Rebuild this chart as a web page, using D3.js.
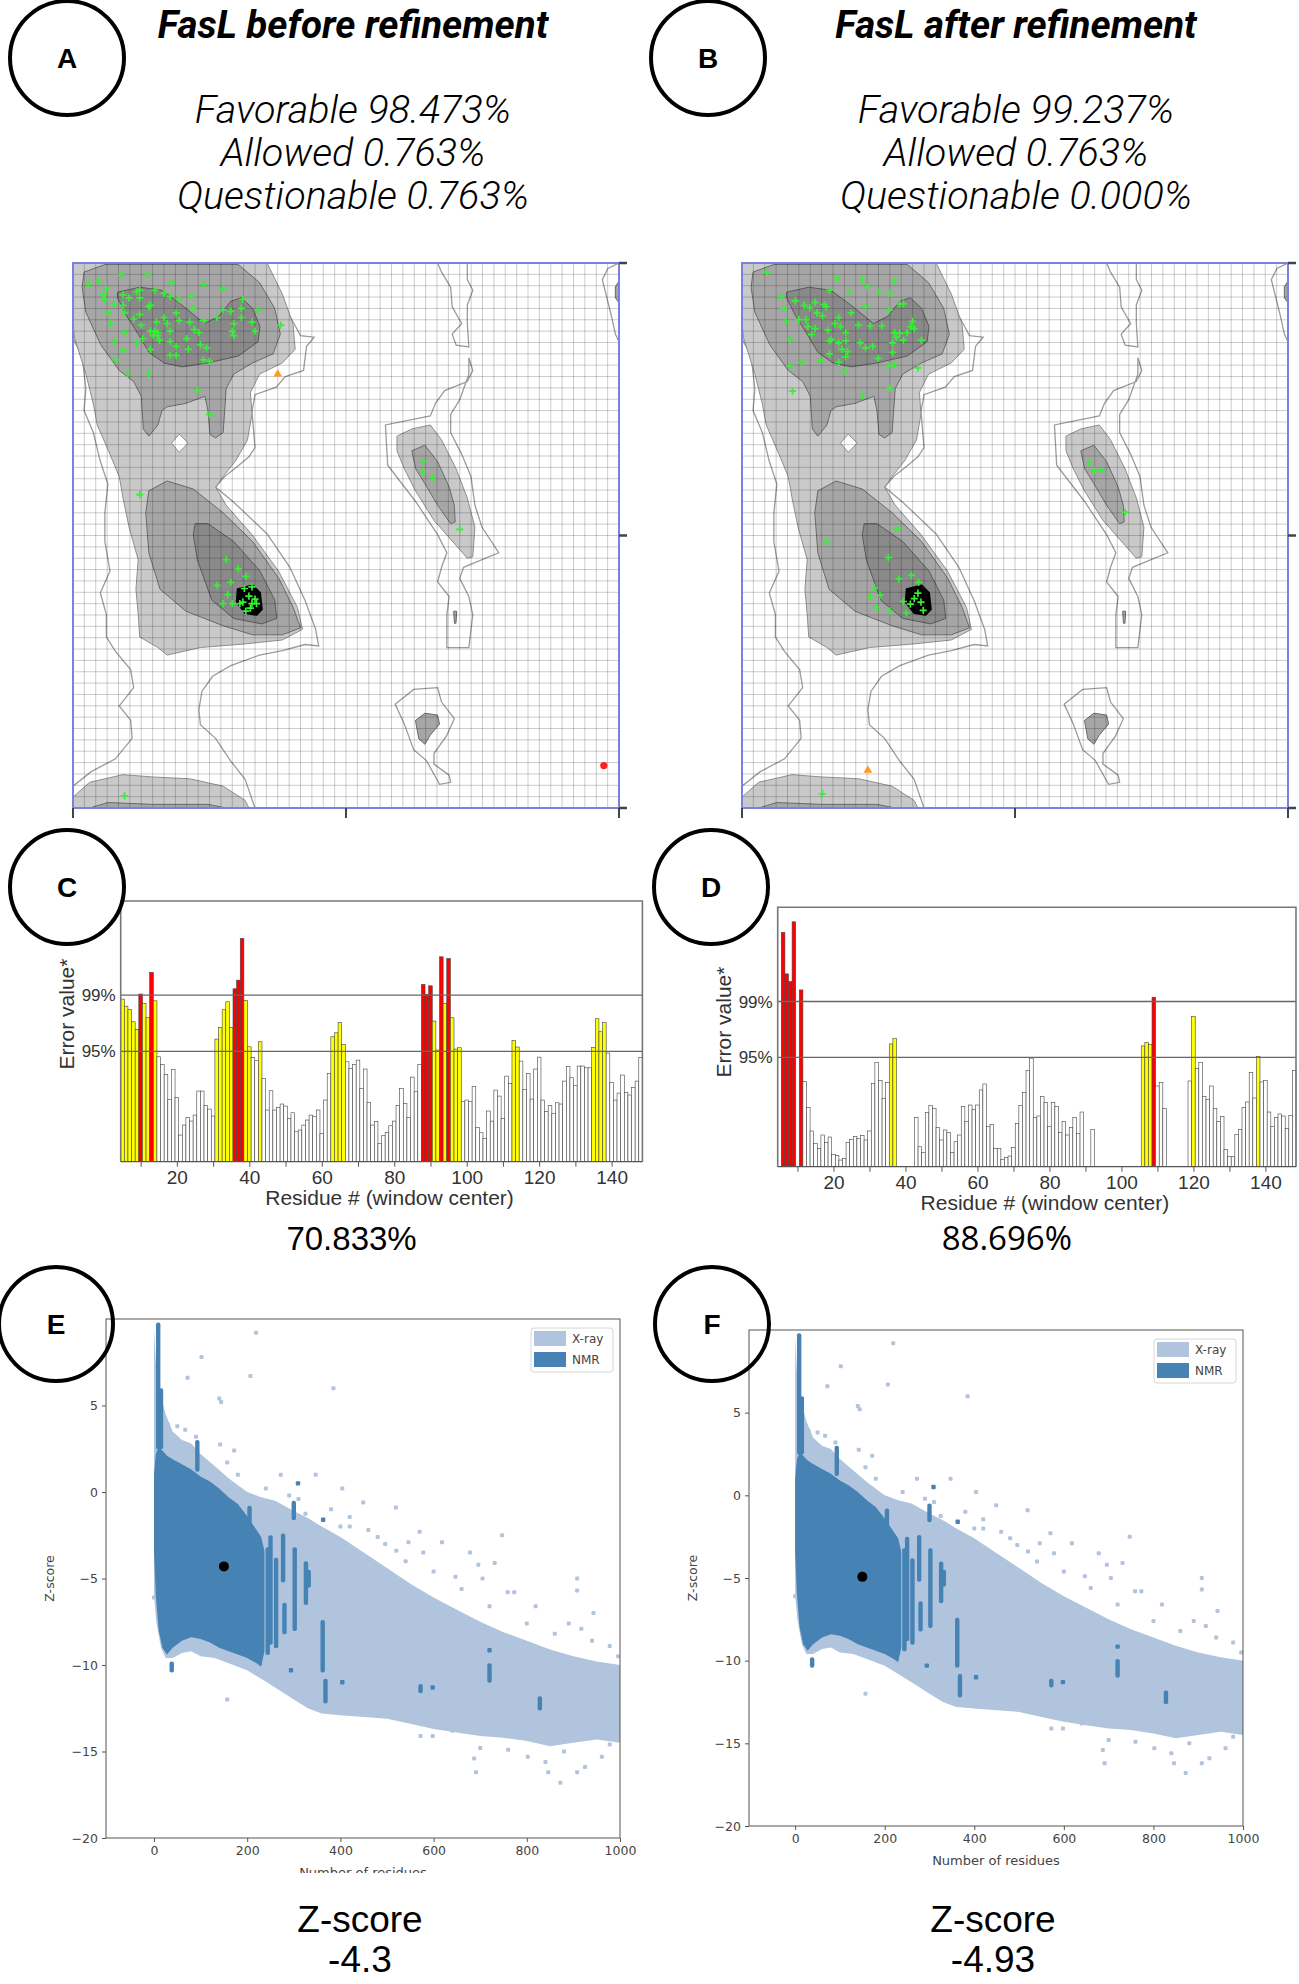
<!DOCTYPE html>
<html>
<head>
<meta charset="utf-8">
<script src="https://cdn.jsdelivr.net/npm/d3@7/dist/d3.min.js"></script>
<style>
  body { margin: 0; background: #fff; }
  svg { display: block; }
</style>
</head>
<body>
<svg id="fig" width="1299" height="1984"></svg>
<script>
// ---------------- text ----------------
const panelLetters = ['A', 'B', 'C', 'D', 'E', 'F'];
const ramaTitles = ['FasL before refinement', 'FasL after refinement'];
const ramaStatsBefore = ['Favorable 98.473%', 'Allowed 0.763%', 'Questionable 0.763%'];
const ramaStatsAfter = ['Favorable 99.237%', 'Allowed 0.763%', 'Questionable 0.000%'];
const erratScores = ['70.833%', '88.696%'];
const zScores = [-4.3, -4.93];

// ---------------- Ramachandran background regions [phi, psi] ----------------
const outlineRegions = [
  [[-180,180],[-55.5,180],[-47,162],[-37,145],[-30,132],[-21,131],[-26,125],[-28,109],[-40,105],[-46,98],[-60,93],[-62,82],[-60,58],[-64,52],[-71,46],[-80,39],[-86,32],[-74,22],[-52,1],[-37,-21],[-27,-43],[-20,-62],[-18,-73],[-27,-72],[-42,-76],[-57,-79],[-76,-86],[-88,-93],[-95,-103],[-97,-115],[-96,-125],[-86,-134],[-76,-149],[-66.5,-161],[-60,-180],[-180,-180],[-180,-165.6],[-168,-156],[-152,-147.5],[-141,-134],[-142,-122],[-149.5,-112.6],[-140,-100.5],[-142,-88.5],[-152,-76.5],[-158,-67],[-158,-52],[-162,-38],[-155.6,-23.5],[-159,-4],[-159,15],[-157,34],[-162,49],[-166.6,68],[-172.7,82.5],[-171.5,97],[-174,118.6],[-179,128],[-180,130.6]],
  [[81,117.4],[83.6,109],[80,101.7],[65,95.7],[59,87.3],[55.6,79],[26,73],[27.5,46.4],[46,22.3],[60.4,0.6],[66.5,-11.4],[63,-21],[60.4,-30.7],[68,-40.3],[66.5,-52.4],[66.5,-74],[81,-74],[83.6,-52.4],[81,-40.3],[75,-28.3],[77.5,-21],[100.7,-11.4],[89.7,5.4],[85,20],[82.4,39],[76.3,53.6],[69,68],[69,80],[75,89.7],[81,106.6]],
  [[60.4,180],[80,180],[80,169],[83.6,162],[80,152.3],[80,140],[81,124.6],[72.6,125.8],[70,133],[76.3,140],[70,151],[69,164],[63,174]],
  [[32.4,-111.4],[44.6,-101.7],[60.4,-100.5],[63,-110],[71.4,-121],[66.5,-132],[58,-144],[58,-151],[68,-158.3],[69,-163],[61.7,-164.4],[53,-148.7],[44.6,-141.5],[38.5,-124.6]],
  [[180,180],[172.7,176.4],[169,169],[175,145],[177.6,133],[180,128]]
];
const lightRegions = [
  [[-180,180],[-52,180],[-42,159.5],[-35,140],[-33.5,123],[-42,114],[-57,106.6],[-63,94.5],[-62,80],[-65,63],[-73,49],[-81,39],[-86,32],[-79,20],[-62,0.6],[-44.5,-23.5],[-32,-47.5],[-28.7,-62],[-42,-69],[-66.5,-71.6],[-96,-74],[-118,-79],[-124,-74],[-136,-67],[-137,-52],[-138.5,-35.5],[-137,-16],[-143,5.4],[-147,24.7],[-149.5,39],[-155.6,53.6],[-164,73],[-166.6,87],[-171.5,106.6],[-179,130.6],[-180,140]],
  [[33.6,65.6],[43.4,70.4],[55.6,73],[63,63.2],[72.6,44],[80,24.7],[85,5.4],[83.6,-14],[80,-15],[72.6,-6.6],[58,10],[45.8,29.5],[38.5,44],[33.6,56]],
  [[-180,-172.8],[-169,-163],[-147,-158],[-127.5,-159.5],[-103,-160.7],[-81,-165.6],[-66.5,-175],[-64,-180],[-180,-180]]
];
const mediumRegions = [
  [[-172.7,174],[-159,179],[-71,179],[-57,167],[-47,150],[-43.3,133],[-48,120],[-61.6,114],[-74,106.6],[-79,97],[-80,82.5],[-81,68],[-86,64.4],[-89.7,66.8],[-91,82.5],[-93,92],[-105.5,87.3],[-118,85],[-121.4,82.5],[-124,73],[-130,65.6],[-133.6,70.4],[-135,92],[-140,101.7],[-149.5,109],[-161.7,126],[-171.5,147.5],[-174,164]],
  [[-130,29.5],[-118,36],[-100.7,30.7],[-81,15],[-61.6,-4],[-44.5,-28],[-34.8,-47.6],[-30,-61],[-42,-65.6],[-61.6,-65.6],[-81,-59.6],[-105.5,-50],[-122.6,-35.5],[-130,-11.4],[-132,15]],
  [[43.4,56],[52,59.6],[60.4,48.8],[68,32],[71.4,20],[72,9],[69,7.8],[60.4,20],[52,34.3],[46,44]],
  [[45.8,-122.2],[52,-117.4],[60.4,-118.6],[61.7,-124.6],[55.6,-131.8],[52,-137.9],[48,-134.3]],
  [[-169,-180],[-157,-176.4],[-127.5,-177.6],[-91,-177.6],[-79,-180]],
  [[180,168],[177.6,164.4],[177.6,157],[180,153.6]],
  [[71,-50],[73,-50],[72.5,-58],[71.5,-58]]
];
const darkRegions = [
  [[-150.7,160.7],[-136,164],[-121.4,162],[-108,152],[-93.3,140],[-83.6,145],[-76,154.7],[-69,157],[-61.6,150],[-56.7,138],[-58,128],[-71,118.6],[-91,114],[-108,111.4],[-120,114],[-130,121],[-137,133],[-144.6,145],[-150.7,157]],
  [[-99.4,7.8],[-91,7.8],[-74,-4],[-56.7,-23.5],[-47,-42.7],[-45.7,-54.8],[-55.5,-58.4],[-74,-54.8],[-88.5,-42.7],[-98,-16],[-100.7,0.6]]
];
const coreRegions = [
  [[-71.4,-35.5],[-61.6,-33],[-56.7,-38],[-55.5,-48.8],[-59,-52.4],[-66.5,-51.2],[-72,-44]]
];
const holeRegions = [
  [[-110,67],[-104,61],[-110,55],[-115,61]]
];

// ---------------- Ramachandran residues [phi, psi] ----------------
const favoredBefore = [
  [-170,166],[-163,168],[-148,172],[-131,172],[-115,167],[-94,166],[-81,163],
  [-160,159],[-158,163],[-159,156],[-153,153],[-147,159],[-143,157],[-138,161],[-136,162],[-136,157],
  [-129,152],[-130,151],[-126,162],[-120,160],[-116,158],[-110,156],[-102,158],[-101,150],[-112,147],
  [-118,140],[-125,141],[-129,135],[-126,135],[-124,134],[-127,132],[-123,129],[-116,135],
  [-147,152],[-146,147],[-140,143],[-136,146],[-135,139],[-134,130],[-146,134],[-153,128],[-147,122],
  [-138,127],[-129,123],[-116,119],[-112,119],[-112,125],[-105,130],[-103,141],[-97,134],[-100,136],
  [-96,126],[-92,124],[-104,123],[-94,116],[-90,115],[-94,142],[-85,144],[-81,149],[-76,148],[-74,140],
  [-69,144],[-68,156],[-69,150],[-58,149],[-62,141],[-60,135],[-74,132],[-75,135],[-157,147],[-155,140],
  [-152,116],[-144,107],[-130,107],[-98,96],[-90,80],[-120,144],[-110,142],[-116,128],[-124,132],[-43,139],
  [-136,27],
  [-79,-16],[-71,-22],[-76,-31],[-66,-27],[-62,-34],[-85,-33],[-78,-39],[-81,-45],[-75,-45],[-70,-45],
  [-66,-50],[-62,-45],[-59,-45],[-67,-35],[-64,-40],[-60,-42],[-68,-44],[-63,-48],
  [75,4],[51,49],[50.6,42],[57,38],
  [-146,-172]
];
const allowedBefore = [[-45,106.6]];
const outlierBefore = [[170,-152]];

const favoredAfter = [
  [-163.4,174],[-117.5,170],[-100.4,169],[-79.5,168],[-97.3,164],[-109.2,161],[-89.5,161],[-82.6,160],[-122.3,162],
  [-154.3,158],[-144.8,155],[-152.4,150],[-138.9,152],[-135.3,150.5],[-131.8,154],[-125.8,152.6],[-124.6,151],[-130.6,147],[-127,145],
  [-98.5,151],[-83,149],[-76,153],[-73.6,153],[-108,147],[-116.3,144],[-150.8,141.5],[-142.5,142.6],[-137.7,142.6],[-136.5,138],
  [-131.8,136.7],[-123.4,135.6],[-118.7,140],[-115.1,138],[-111.6,134],[-103.3,139],[-95.4,138.4],[-87.8,138.4],[-79.5,134],[-76,133.7],
  [-71.2,134],[-67.6,141.5],[-66.4,136.7],[-68.8,138],[-61.7,129],[-148.4,129.6],[-134.1,132.7],[-122.3,128.5],[-121.1,129.6],[-116.3,127.3],
  [-114,123],[-111.6,128.5],[-110.4,121.4],[-102,127.3],[-98.5,124],[-93.8,125],[-80.7,127.3],[-78.3,131],[-73.6,129],[-80.7,121],
  [-90.2,117],[-122.3,120],[-128.2,115.5],[-116.3,114.3],[-111.6,118],[-140.6,114.3],[-148.4,112],[-112.8,108.4],[-83,112],[-79.5,113],
  [-64,110.7],[-146.7,95.4],[-100.4,92.3],[-82.6,97.3],
  [-124,-4],[-77.6,4.4],[-83.5,-14.6],[-76.6,-28.7],[-68.3,-26.4],[-63.6,-31],[-92.6,-34.6],[-89,-39.4],[-95.4,-40.6],[-91.4,-47.6],
  [-82.6,-50],[-71.7,-51.2],[-73.6,-43.6],[-69,-45.3],[-66.4,-41.7],[-60.5,-49.5],[-64,-38],[-62,-44],
  [48.8,47.6],[52.4,42.7],[57,43.4],[72.6,15.5],
  [-127,-170.6]
];
const allowedAfter = [[-97,-155]];
const outlierAfter = [];

// ---------------- ERRAT error values, residues 5..148 (null = no window) ----------------
const erratFirstResidue = 5;
const errat95 = 11.38, errat99 = 17.19;
const erratBefore = [
  16.78,16.05,15.71,14.44,13.65,17.30,16.33,14.88,19.53,16.60,
  10.83,10.04,9.01,6.43,9.52,6.63,2.75,3.78,4.57,4.19,
  4.81,7.29,7.29,5.78,5.43,4.71,12.65,13.85,15.68,16.50,
  13.85,17.84,18.73,23.03,16.64,11.86,10.76,10.42,12.38,8.59,
  5.33,7.32,5.33,5.60,5.95,5.74,4.47,5.05,3.09,3.27,
  3.78,4.30,4.81,4.64,5.33,2.89,6.36,9.11,12.89,13.30,
  14.37,12.10,10.31,9.63,10.04,10.48,7.56,9.56,6.12,3.78,
  4.13,1.89,2.68,3.03,3.71,4.19,5.78,7.56,6.02,4.57,
  8.73,7.22,10.04,18.29,17.26,18.15,14.51,11.52,21.14,16.33,
  20.97,14.85,11.62,11.76,6.19,6.36,6.19,7.77,3.54,2.99,
  2.41,5.23,4.19,7.39,6.77,4.47,8.83,8.08,12.51,11.83,
  10.38,7.46,9.11,6.46,9.56,10.79,6.36,5.16,5.78,4.98,
  6.08,5.95,8.32,9.83,8.66,7.84,9.87,9.87,9.69,9.69,
  11.79,14.75,13.41,14.37,11.21,8.18,6.36,7.08,8.94,7.12,
  6.88,7.67,8.32,10.76
];
const erratAfter = [
  null,24.38,20.07,19.27,25.49,null,18.40,8.85,6.18,3.72,
  2.43,1.91,3.30,2.50,3.09,1.28,1.15,0.69,0.87,2.50,
  2.85,3.13,2.92,3.23,2.78,3.72,8.65,10.83,8.99,7.12,
  8.75,12.78,13.37,null,null,null,null,null,5.14,2.08,
  1.46,5.63,6.35,6.08,4.10,2.78,3.82,3.58,1.49,2.60,
  3.30,6.25,4.69,6.42,5.97,6.42,7.99,8.61,4.17,4.41,
  1.91,1.91,0.76,0.97,1.11,2.01,4.51,6.35,7.71,10.00,
  11.30,5.14,5.28,7.29,6.67,4.17,6.67,6.25,3.58,4.69,
  3.30,4.06,5.14,3.47,5.69,null,null,3.89,null,null,
  null,null,null,null,null,null,null,null,null,null,
  null,12.57,12.92,12.74,17.64,8.40,8.75,6.04,null,null,
  null,null,null,null,8.92,15.63,10.24,10.83,7.29,7.01,
  8.40,6.08,4.69,5.21,1.81,1.04,1.04,3.37,3.89,6.18,
  6.74,9.79,7.15,11.45,8.82,8.99,5.69,4.17,5.14,5.49,
  5.28,3.96,5.35,10.00
];

// ---------------- ProSA reference set: [residues, z low, z high] ----------------
const xrayBand = [
  [0,-6.0,9.5],[5,-7.5,7.0],[15,-9.0,5.5],[25,-9.6,4.5],[40,-9.6,3.5],[60,-9.3,3.0],[80,-9.2,2.8],
  [100,-9.5,2.2],[130,-9.6,1.5],[160,-9.9,0.8],[200,-10.3,0.0],[230,-10.8,-0.3],[260,-11.3,-0.5],
  [300,-12.0,-1.1],[330,-12.5,-1.5],[360,-12.8,-2.0],[400,-12.9,-2.6],[450,-13.0,-3.5],[500,-13.1,-4.4],
  [550,-13.4,-5.3],[600,-13.7,-6.1],[650,-13.9,-6.8],[700,-14.1,-7.5],[750,-14.2,-8.1],[800,-14.4,-8.6],
  [850,-14.7,-9.1],[900,-14.5,-9.5],[950,-14.3,-9.8],[1000,-14.5,-10.0]
];
const xrayPoints = [
  [219,9.2],[102,7.8],[72,6.6],[207,6.7],[385,6.0],[144,5.2],[140,5.4],[67,3.6],[142,2.75],[172,2.4],
  [157,1.7],[117,1.55],[135,1.0],[272,1.0],[347,1.0],[404,0.2],[449,-0.6],[519,-0.9],[325,-1.25],[420,-1.45],
  [420,-2.0],[570,-2.3],[618,-2.9],[747,-2.5],[546,-2.9],[496,-3.0],[578,-3.5],[678,-3.5],[696,-4.2],[731,-4.1],
  [647,-4.9],[705,-5.0],[759,-5.8],[773,-5.8],[819,-6.6],[908,-5.0],[908,-5.7],[943,-7.0],[890,-7.6],[917,-7.9],
  [978,-8.9],[996,-9.5],[996,-10.6],[687,-15.4],[691,-16.2],[802,-15.3],[846,-16.2],[872,-16.8],[908,-16.2],[925,-15.9],
  [961,-15.3],[978,-14.6],[157,-12.0],[0,-6.1],[640,-13.8],[598,-14.1],[572,-14.1],[30,3.9],[50,3.8],[90,3.2],
  [180,1.0],[240,0.2],[290,-0.2],[310,-0.4],[380,-1.0],[400,-2.0],[460,-2.2],[480,-2.6],[520,-3.4],[540,-4.0],
  [600,-4.6],[660,-5.6],[720,-6.6],[800,-7.6],[860,-8.2],[940,-8.6],[880,-15.0],[840,-15.6],[760,-14.9],[700,-14.8]
];
const nmrBand = [
  [0,-3.5,1.0],[4,-6.0,2.2],[10,-8.0,2.6],[18,-9.0,2.4],[28,-9.4,2.1],[40,-9.0,1.9],[60,-8.6,1.6],
  [80,-8.4,1.3],[100,-8.5,0.9],[120,-8.7,0.6],[140,-9.0,0.2],[160,-9.2,-0.3],[180,-9.4,-0.7],
  [200,-9.6,-1.4],[220,-9.9,-2.2],[230,-10.1,-2.6],[237,-9.2,-3.4]
];
const nmrStreaks = [
  [9,9.8,2.5],[15,6.0,2.5],[38,-9.8,-10.4],[93,3.0,1.2],[165,-0.6,-1.8],[205,-0.8,-2.4],[244,-3.2,-9.4],[250,-2.5,-8.8],
  [262,-3.8,-9.0],[277,-2.4,-5.2],[280,-6.4,-8.2],[300,-0.5,-1.6],[302,-3.2,-8.0],[326,-4.0,-6.5],
  [332,-4.5,-5.5],[362,-7.4,-10.4],[368,-10.8,-12.2],[572,-11.1,-11.6],[720,-9.9,-11.0],[828,-11.8,-12.6]
];
const nmrPoints = [[309,0.5],[363,-1.6],[294,-10.3],[404,-11.0],[598,-11.3],[720,-9.15]];
const modelResidues = 150;

// ---------------- drawing ----------------
const svg = d3.select('#fig');
const defs = svg.append('defs');
let clipCount = 0;
function clipRect(x, y, w, h) {
  const id = 'clip' + (clipCount++);
  defs.append('clipPath').attr('id', id).append('rect')
    .attr('x', x).attr('y', y).attr('width', w).attr('height', h);
  return `url(#${id})`;
}

function drawRama(x0, y0, w, h, favored, allowed, outliers) {
  const x = d3.scaleLinear().domain([-180, 180]).range([x0, x0 + w]);
  const y = d3.scaleLinear().domain([-180, 180]).range([y0 + h, y0]);
  const poly = d3.line().x(d => x(d[0])).y(d => y(d[1])).curve(d3.curveLinearClosed);
  const g = svg.append('g');
  const body = g.append('g').attr('clip-path', clipRect(x0, y0, w, h));

  body.append('rect').attr('x', x0).attr('y', y0).attr('width', w).attr('height', h).attr('fill', '#fff');
  body.selectAll('path.outline').data(outlineRegions).join('path')
    .attr('d', poly).attr('fill', 'none').attr('stroke', '#9c9c9c').attr('stroke-width', 1.3);
  body.selectAll('path.light').data(lightRegions).join('path')
    .attr('d', poly).attr('fill', '#c9c9c9').attr('stroke', '#8f8f8f').attr('stroke-width', 1);
  body.selectAll('path.medium').data(mediumRegions).join('path')
    .attr('d', poly).attr('fill', '#a6a6a6').attr('stroke', '#6a6a6a').attr('stroke-width', 1);
  body.selectAll('path.dark').data(darkRegions).join('path')
    .attr('d', poly).attr('fill', '#8a8a8a').attr('stroke', '#5a5a5a').attr('stroke-width', 1);
  body.selectAll('path.core').data(coreRegions).join('path')
    .attr('d', poly).attr('fill', '#000').attr('stroke', '#000').attr('stroke-width', 2)
    .attr('stroke-linejoin', 'round');
  body.selectAll('path.hole').data(holeRegions).join('path')
    .attr('d', poly).attr('fill', '#fff').attr('stroke', '#8f8f8f').attr('stroke-width', 1);

  // grid
  const steps = d3.range(-180, 180.01, 7.5);
  body.selectAll('line.gx').data(steps).join('line')
    .attr('x1', d => x(d)).attr('x2', d => x(d)).attr('y1', y0).attr('y2', y0 + h)
    .attr('stroke', 'rgba(0,0,0,0.2)').attr('stroke-width', 1);
  body.selectAll('line.gy').data(steps).join('line')
    .attr('y1', d => y(d)).attr('y2', d => y(d)).attr('x1', x0).attr('x2', x0 + w)
    .attr('stroke', 'rgba(0,0,0,0.2)').attr('stroke-width', 1);

  // residues
  body.selectAll('path.fav').data(favored).join('path')
    .attr('d', d => `M${x(d[0]) - 3.6},${y(d[1])}h7.2M${x(d[0])},${y(d[1]) - 3.6}v7.2`)
    .attr('stroke', '#35f035').attr('stroke-width', 1.7);
  body.selectAll('path.allow').data(allowed).join('path')
    .attr('d', d3.symbol(d3.symbolTriangle, 32))
    .attr('transform', d => `translate(${x(d[0])},${y(d[1])})`)
    .attr('fill', '#ff9a1a');
  body.selectAll('circle.out').data(outliers).join('circle')
    .attr('cx', d => x(d[0])).attr('cy', d => y(d[1])).attr('r', 3.6).attr('fill', '#ff1f1f');

  // frame and ticks
  g.append('rect').attr('x', x0).attr('y', y0).attr('width', w).attr('height', h)
    .attr('fill', 'none').attr('stroke', '#7c80e0').attr('stroke-width', 2);
  g.selectAll('line.tb').data([-180, 0, 180]).join('line')
    .attr('x1', d => x(d)).attr('x2', d => x(d)).attr('y1', y0 + h).attr('y2', y0 + h + 10)
    .attr('stroke', '#444').attr('stroke-width', 2);
  g.selectAll('line.tr').data([-180, 0, 180]).join('line')
    .attr('y1', d => y(d)).attr('y2', d => y(d)).attr('x1', x0 + w).attr('x2', x0 + w + 8)
    .attr('stroke', '#444').attr('stroke-width', 2.5);
}

function drawErrat(x0, y0, x1, y1, values, yMax, scoreText, scoreFont, labelY) {
  const x = d3.scaleLinear().domain([4.5, 148.5]).range([x0, x1]);
  const y = d3.scaleLinear().domain([0, yMax]).range([y1, y0]);
  const g = svg.append('g');
  const bars = values.map((v, i) => ({ res: erratFirstResidue + i, v })).filter(d => d.v !== null);

  g.selectAll('rect.bar').data(bars).join('rect')
    .attr('x', d => x(d.res - 0.5)).attr('width', x(1) - x(0))
    .attr('y', d => y(d.v)).attr('height', d => y(0) - y(d.v))
    .attr('fill', d => d.v > errat99 ? '#ff0000' : d.v > errat95 ? '#ffff00' : '#fff')
    .attr('stroke', '#444').attr('stroke-width', 0.6);

  g.selectAll('line.thr').data([errat95, errat99]).join('line')
    .attr('x1', x0).attr('x2', x1).attr('y1', d => y(d)).attr('y2', d => y(d))
    .attr('stroke', '#666').attr('stroke-width', 1.4);
  g.append('path')
    .attr('d', `M${x0},${y1}V${y0}H${x1}V${y1}`)
    .attr('fill', 'none').attr('stroke', '#777').attr('stroke-width', 1.6);
  g.append('line').attr('x1', x0).attr('x2', x1).attr('y1', y1).attr('y2', y1)
    .attr('stroke', '#555').attr('stroke-width', 1.2);

  const axis = d3.axisBottom(x).tickValues(d3.range(10, 141, 10))
    .tickSize(5).tickPadding(4).tickFormat(d => d % 20 === 0 ? d : '');
  const ax = g.append('g').attr('transform', `translate(0,${y1})`).call(axis);
  ax.select('.domain').remove();
  ax.selectAll('line').attr('stroke', '#555');
  ax.selectAll('text').attr('font-family', 'Liberation Sans, Arial, sans-serif')
    .attr('font-size', 19).attr('fill', '#333');

  g.selectAll('text.pct').data([[errat99, '99%'], [errat95, '95%']]).join('text')
    .attr('x', x0 - 5).attr('y', d => y(d[0]) + 6).attr('text-anchor', 'end')
    .attr('font-family', 'Liberation Sans, Arial, sans-serif').attr('font-size', 17).attr('fill', '#333')
    .text(d => d[1]);
  g.append('text')
    .attr('transform', `translate(${x0 - 47},${labelY}) rotate(-90)`)
    .attr('text-anchor', 'middle').attr('font-family', 'Liberation Sans, Arial, sans-serif')
    .attr('font-size', 21).attr('fill', '#333').text('Error value*');
  g.append('text').attr('x', (x0 + x1) / 2 + 8).attr('y', y1 + 43).attr('text-anchor', 'middle')
    .attr('font-family', 'Liberation Sans, Arial, sans-serif').attr('font-size', 21).attr('fill', '#333')
    .text('Residue # (window center)');
  g.append('text').attr('x', (x0 + x1) / 2 - 30).attr('y', 1250).attr('text-anchor', 'middle')
    .attr('font-family', scoreFont).attr('font-size', 33).attr('fill', '#000').text(scoreText);
}

function drawZ(x0, y0, x1, y1, z, cutLabel) {
  const x = d3.scaleLinear().domain([-103, 1000]).range([x0, x1]);
  const y = d3.scaleLinear().domain([-20, 10]).range([y1, y0]);
  const g = svg.append('g');
  const body = g.append('g').attr('clip-path', clipRect(x0, y0, x1 - x0, y1 - y0));
  const band = d3.area().x(d => x(d[0])).y0(d => y(d[1])).y1(d => y(d[2]));
  const light = '#b0c4de', dark = '#4682b4';

  body.append('path').datum(xrayBand).attr('d', band).attr('fill', light);
  body.selectAll('rect.xp').data(xrayPoints).join('rect')
    .attr('x', d => x(d[0]) - 2).attr('y', d => y(d[1]) - 2).attr('width', 4).attr('height', 4)
    .attr('rx', 1).attr('fill', light);
  body.append('path').datum(nmrBand).attr('d', band).attr('fill', dark);
  body.selectAll('rect.st').data(nmrStreaks).join('rect')
    .attr('x', d => x(d[0]) - 2.2).attr('width', 4.4)
    .attr('y', d => y(d[1])).attr('height', d => y(d[2]) - y(d[1]) + 0.5)
    .attr('rx', 2).attr('fill', dark);
  body.selectAll('rect.np').data(nmrPoints).join('rect')
    .attr('x', d => x(d[0]) - 2.2).attr('y', d => y(d[1]) - 2.2).attr('width', 4.4).attr('height', 4.4)
    .attr('rx', 1).attr('fill', dark);
  body.append('circle').attr('cx', x(modelResidues)).attr('cy', y(z)).attr('r', 5).attr('fill', '#000');

  g.append('rect').attr('x', x0).attr('y', y0).attr('width', x1 - x0).attr('height', y1 - y0)
    .attr('fill', 'none').attr('stroke', '#555').attr('stroke-width', 1);

  const fmt = d => d < 0 ? '\u2212' + Math.abs(d) : String(d);
  const axB = g.append('g').attr('transform', `translate(0,${y1})`)
    .call(d3.axisBottom(x).tickValues([0, 200, 400, 600, 800, 1000]).tickSize(4).tickPadding(4).tickFormat(fmt));
  const axL = g.append('g').attr('transform', `translate(${x0},0)`)
    .call(d3.axisLeft(y).tickValues([-20, -15, -10, -5, 0, 5]).tickSize(4).tickPadding(4).tickFormat(fmt));
  [axB, axL].forEach(a => {
    a.select('.domain').remove();
    a.selectAll('line').attr('stroke', '#555');
    a.selectAll('text').attr('font-family', 'DejaVu Sans, sans-serif').attr('font-size', 12.5).attr('fill', '#444');
  });

  g.append('text').attr('x', (x0 + x1) / 2).attr('y', y1 + 39).attr('text-anchor', 'middle')
    .attr('font-family', 'DejaVu Sans, sans-serif').attr('font-size', 13).attr('fill', '#444')
    .text('Number of residues');
  if (cutLabel) {
    g.append('rect').attr('x', x0 - 10).attr('y', y1 + 35).attr('width', x1 - x0 + 40).attr('height', 40).attr('fill', '#fff');
  }
  g.append('text')
    .attr('transform', `translate(${x0 - 52},${(y0 + y1) / 2}) rotate(-90)`)
    .attr('text-anchor', 'middle').attr('font-family', 'DejaVu Sans, sans-serif')
    .attr('font-size', 12.5).attr('fill', '#444').text('Z-score');

  // legend
  const lx = x1 - 89, ly = y0 + 9;
  const lg = g.append('g');
  lg.append('rect').attr('x', lx).attr('y', ly).attr('width', 82).attr('height', 44).attr('rx', 3)
    .attr('fill', '#fff').attr('stroke', '#d6d6d6');
  lg.selectAll('rect.sw').data([['X-ray', light], ['NMR', dark]]).join('rect')
    .attr('x', lx + 3).attr('y', (d, i) => ly + 3 + i * 21).attr('width', 32).attr('height', 15)
    .attr('fill', d => d[1]);
  lg.selectAll('text.lt').data([['X-ray', light], ['NMR', dark]]).join('text')
    .attr('x', lx + 41).attr('y', (d, i) => ly + 15 + i * 21)
    .attr('font-family', 'DejaVu Sans, sans-serif').attr('font-size', 12).attr('fill', '#444')
    .text(d => d[0]);

  const cx = (x0 + x1) / 2 - 3;
  svg.append('text').attr('x', cx).attr('y', 1932).attr('text-anchor', 'middle')
    .attr('font-family', 'Liberation Sans, Arial, sans-serif').attr('font-size', 37).attr('fill', '#000')
    .text('Z-score');
  svg.append('text').attr('x', cx).attr('y', 1972).attr('text-anchor', 'middle')
    .attr('font-family', 'Liberation Sans, Arial, sans-serif').attr('font-size', 37).attr('fill', '#000')
    .text(String(z));
}

// ---- panel A / B ----
[[353, ramaStatsBefore], [1016, ramaStatsAfter]].forEach(([cx, stats], i) => {
  svg.append('text').attr('x', cx).attr('y', 38).attr('text-anchor', 'middle')
    .attr('font-family', 'Roboto, sans-serif').attr('font-weight', 700).attr('font-style', 'italic')
    .attr('font-size', 38.5).attr('fill', '#000').text(ramaTitles[i]);
  svg.selectAll(null).data(stats).join('text')
    .attr('x', cx).attr('y', (d, j) => 123 + j * 43).attr('text-anchor', 'middle')
    .attr('font-family', 'Roboto, sans-serif').attr('font-weight', 300).attr('font-style', 'italic')
    .attr('font-size', 39.5).attr('fill', '#000').text(d => d);
});
drawRama(73, 263, 546, 545, favoredBefore, allowedBefore, outlierBefore);
drawRama(742, 263, 546, 545, favoredAfter, allowedAfter, outlierAfter);

// ---- panel C / D ----
drawErrat(120.7, 901, 642.4, 1161.7, erratBefore, 26.9, erratScores[0], 'Liberation Sans, Arial, sans-serif', 1014);
drawErrat(777.7, 907.3, 1296, 1166.7, erratAfter, 27.0, erratScores[1], 'Open Sans, sans-serif', 1022);

// ---- panel E / F ----
drawZ(106, 1319, 620, 1838, zScores[0], true);
drawZ(749, 1330, 1243, 1826, zScores[1], false);

// ---- circled letters ----
const letterCenters = [[67, 58], [708, 58], [67, 887], [711, 887], [56, 1324], [712, 1324]];
svg.selectAll('circle.lab').data(letterCenters).join('circle')
  .attr('cx', d => d[0]).attr('cy', d => d[1]).attr('r', 57)
  .attr('fill', 'none').attr('stroke', '#000').attr('stroke-width', 4);
svg.selectAll('text.lab').data(letterCenters).join('text')
  .attr('x', d => d[0]).attr('y', d => d[1] + 10).attr('text-anchor', 'middle')
  .attr('font-family', 'Liberation Sans, Arial, sans-serif').attr('font-weight', 700)
  .attr('font-size', 28).attr('fill', '#000').text((d, i) => panelLetters[i]);
</script>
</body>
</html>
